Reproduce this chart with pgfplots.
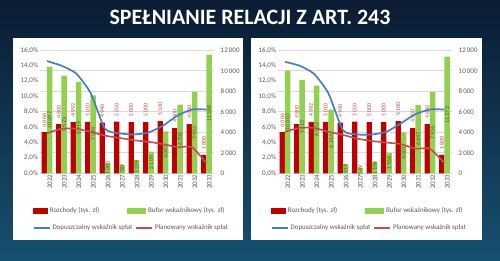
\documentclass[border=0pt]{standalone}
\usepackage{pgfplots}
\usepackage{pgfplotstable}
\pgfplotsset{compat=1.18}
\usepackage{fontspec}
\setmainfont{Carlito}
\definecolor{bgtop}{HTML}{0B1C33}
\definecolor{bgbot}{HTML}{17506F}
\definecolor{redbar}{HTML}{C00000}
\definecolor{greenbar}{HTML}{92D050}
\definecolor{blueline}{HTML}{4A7EBB}
\definecolor{redline}{HTML}{C0504D}
\definecolor{redlab}{HTML}{C0504D}
\definecolor{greenlab}{HTML}{4F6228}
\definecolor{ticktext}{HTML}{595959}
\definecolor{gridc}{HTML}{D9D9D9}

\pgfplotstableread{
x red green blue redl
0 4006 10397 14.6 5.2
1 4800 9523 14.0 5.8
2 4992 8919 13.0 5.8
3 5010 7594 10.5 5.4
4 4940 1003 5.8 4.9
5 5050 789 5.2 4.6
6 5000 1299 5.05 4.3
7 5000 2109 5.3 4.1
8 5100 4097 6.2 3.8
9 4400 6708 7.5 3.4
10 4800 7953 8.3 3.4
11 1800 11588 8.3 1.3
}\leftdata

\pgfplotstableread{
x red green blue redl
0 4006 10007 14.5 5.4
1 4800 9115 14.0 5.9
2 4992 8552 12.95 5.9
3 5010 6214 10.4 5.4
4 4940 919 5.6 5.0
5 5050 549 5.05 4.5
6 5000 1106 5.05 4.2
7 5000 1966 5.4 4.0
8 5100 4001 6.5 3.8
9 4400 6647 7.7 3.2
10 4800 7926 8.3 3.2
11 1800 11372 8.3 1.3
}\rightdata

\tikzset{
  redlabel/.style={font=\fontsize{6}{7}\selectfont, text=redlab, inner sep=0pt,
    anchor=west, yshift=5bp, rotate=90},
  greenlabel/.style={font=\fontsize{6}{7}\selectfont, text=greenlab, inner sep=0pt,
    shift={(axis direction cs:0,-\rawy/2)}, anchor=center, rotate=90},
}

\pgfplotsset{
  common/.style={
    scale only axis, width=174bp, height=123bp, anchor=south west,
    xmin=-0.5, xmax=11.5,
    major tick length=0pt,
    scaled y ticks=false,
    tick label style={font=\fontsize{7}{8}\selectfont, text=ticktext},
    axis line style={draw=none},
    legend columns=2,
    legend cell align=left,
  },
  baraxis/.style={common,
    axis y line*=right, axis x line*=bottom,
    ymin=0, ymax=12000, ytick={0,2000,4000,6000,8000,10000,12000},
    yticklabels={0,{2\,000},{4\,000},{6\,000},{8\,000},{10\,000},{12\,000}},
    yticklabel style={anchor=west, xshift=3.5bp},
    ymajorgrids, grid style={gridc, line width=0.6bp},
    xtick={0,...,11},
    xticklabels={2022,2023,2024,2025,2026,2027,2028,2029,2030,2031,2032,2033},
    xticklabel style={rotate=90, anchor=east, inner sep=1bp, yshift=-3bp},
    ybar=0pt, bar width=5.3bp,
    legend style={at={(-0.04,-0.3065)}, anchor=west, draw=none, fill=none,
      font=\fontsize{7}{8}\selectfont, text=ticktext, inner sep=0pt,
      /tikz/every even column/.append style={column sep=26bp}},
  },
  lineaxis/.style={common,
    axis y line*=left, axis x line=none,
    ymin=0, ymax=16, ytick={0,2,4,6,8,10,12,14,16},
    yticklabels={{0,0\%},{2,0\%},{4,0\%},{6,0\%},{8,0\%},{10,0\%},{12,0\%},{14,0\%},{16,0\%}},
    yticklabel style={anchor=east, inner sep=1.5bp},
    xtick=\empty,
    legend style={at={(-0.04,-0.445)}, anchor=west, draw=none, fill=none,
      font=\fontsize{7}{8}\selectfont, text=ticktext, inner sep=0pt,
      /tikz/every even column/.append style={column sep=1bp}},
  },
}

\newcommand{\drawchart}[2]{%
\begin{axis}[baraxis, at={(#1,87.7bp)}]
 \addplot[fill=redbar, draw=none, nodes near coords,
   nodes near coords={\pgfmathprintnumber[fixed,precision=0,1000 sep={\,},assume math mode=true]{\pgfplotspointmeta}},
   nodes near coords style={redlabel},
   legend image code/.code={\fill[redbar] (0bp,-2.6bp) rectangle (15bp,2.6bp);}]
   table[x=x,y=red]{#2};
 \addlegendentry{Rozchody (tys. zł)}
 \addplot[fill=greenbar, draw=none, visualization depends on={rawy \as \rawy},
   nodes near coords={\pgfmathprintnumber[fixed,precision=0,1000 sep={\,},assume math mode=true]{\pgfplotspointmeta}},
   nodes near coords style={greenlabel},
   legend image code/.code={\fill[greenbar] (0bp,-2.6bp) rectangle (19bp,2.6bp);}]
   table[x=x,y=green]{#2};
 \addlegendentry{Bufor wskaźnikowy (tys. zł)}
\end{axis}
\begin{axis}[lineaxis, at={(#1,87.7bp)}]
 \addplot[blueline, line width=1.7bp, smooth, tension=0.35, no marks,
   legend image code/.code={\draw[blueline, line width=1.6bp] (0bp,0bp) -- (16bp,0bp);}]
   table[x=x,y=blue]{#2};
 \addlegendentry{Dopuszczalny wskaźnik spłat}
 \addplot[redline, line width=1.6bp, smooth, tension=0.35, no marks,
   legend image code/.code={\draw[redline, line width=1.6bp] (0bp,0bp) -- (16bp,0bp);}]
   table[x=x,y=redl]{#2};
 \addlegendentry{Planowany wskaźnik spłat}
\end{axis}
}

\begin{document}
\begin{tikzpicture}
\useasboundingbox (0,0) rectangle (500bp,261bp);
\shade[top color=bgtop, bottom color=bgbot] (0,0) rectangle (500bp,261bp);
\node[text=white, font=\fontsize{22}{24}\bfseries\selectfont, inner sep=0pt] at (250bp,243.5bp) {SPEŁNIANIE RELACJI Z ART. 243};
\fill[white] (13bp,21bp) rectangle (243bp,223bp);
\fill[white] (251bp,21bp) rectangle (482bp,223bp);
\drawchart{39.7bp}{\leftdata}
\drawchart{277.7bp}{\rightdata}
\end{tikzpicture}
\end{document}
